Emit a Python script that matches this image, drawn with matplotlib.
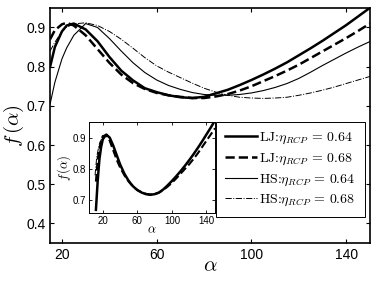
import matplotlib.pyplot as plt

plt.rcParams['font.family'] = ['Liberation Sans', 'DejaVu Sans']
plt.rcParams['mathtext.fontset'] = 'cm'
plt.rcParams['axes.unicode_minus'] = False

# main plot data
alpha = [15, 17, 20, 22, 25, 30, 35, 40, 45, 50, 55, 60, 65, 70, 75, 80, 85, 90,
         95, 100, 105, 110, 115, 120, 125, 130, 135, 140, 145, 150]
lj_064 = [0.800, 0.850, 0.890, 0.905, 0.910, 0.895, 0.865, 0.825, 0.790, 0.765, 0.745,
          0.735, 0.727, 0.722, 0.720, 0.723, 0.732, 0.741, 0.753, 0.766, 0.780, 0.795,
          0.811, 0.829, 0.847, 0.866, 0.886, 0.906, 0.928, 0.950]
lj_068 = [0.870, 0.893, 0.908, 0.912, 0.905, 0.880, 0.845, 0.810, 0.780, 0.758, 0.743,
          0.733, 0.727, 0.723, 0.720, 0.720, 0.724, 0.730, 0.739, 0.750, 0.763, 0.776,
          0.790, 0.805, 0.822, 0.839, 0.856, 0.873, 0.891, 0.910]
hs_064 = [0.705, 0.760, 0.820, 0.848, 0.880, 0.910, 0.900, 0.872, 0.840, 0.810, 0.785,
          0.766, 0.752, 0.742, 0.734, 0.729, 0.727, 0.727, 0.729, 0.733, 0.739, 0.747,
          0.757, 0.770, 0.786, 0.803, 0.819, 0.835, 0.850, 0.864]
hs_068 = [0.840, 0.862, 0.890, 0.901, 0.909, 0.912, 0.905, 0.890, 0.870, 0.847, 0.823,
          0.802, 0.786, 0.772, 0.758, 0.745, 0.735, 0.727, 0.722, 0.720, 0.719, 0.720,
          0.722, 0.727, 0.733, 0.740, 0.748, 0.757, 0.766, 0.775]
labels = [r'LJ:$\eta_{RCP}\,=\,0.64$', r'LJ:$\eta_{RCP}\,=\,0.68$',
          r'HS:$\eta_{RCP}\,=\,0.64$', r'HS:$\eta_{RCP}\,=\,0.68$']

# inset data
alpha_in = [12, 14, 16, 18, 20, 24, 28, 32, 36, 40, 45, 50, 55, 60, 65, 70, 75, 80,
            85, 90, 95, 100, 105, 110, 115, 120, 125, 130, 135, 140, 145, 150]
in_solid = [0.670, 0.760, 0.830, 0.870, 0.895, 0.910, 0.900, 0.875, 0.845, 0.815, 0.785,
            0.762, 0.745, 0.733, 0.725, 0.720, 0.718, 0.720, 0.725, 0.735, 0.748, 0.762,
            0.777, 0.793, 0.810, 0.828, 0.847, 0.867, 0.888, 0.910, 0.932, 0.955]
in_dash = [0.760, 0.830, 0.865, 0.890, 0.905, 0.908, 0.890, 0.860, 0.830, 0.805, 0.780,
           0.760, 0.744, 0.733, 0.726, 0.721, 0.719, 0.720, 0.725, 0.733, 0.744, 0.756,
           0.770, 0.785, 0.800, 0.815, 0.832, 0.850, 0.870, 0.890, 0.910, 0.930]
alpha_dd = [11, 13, 16, 20, 24, 28]
in_dd = [0.780, 0.840, 0.880, 0.905, 0.910, 0.900]

fig = plt.figure(figsize=(3.74, 2.81), dpi=100)
ax = fig.add_axes([0.134, 0.135, 0.855, 0.837])
ax.plot(alpha, lj_064, 'k-', lw=1.8, label=labels[0])
ax.plot(alpha, lj_068, 'k--', lw=1.8, label=labels[1])
ax.plot(alpha, hs_064, 'k-', lw=0.8, label=labels[2])
ax.plot(alpha, hs_068, 'k-.', lw=0.7, label=labels[3])
ax.set_xlim(15, 150)
ax.set_ylim(0.35, 0.95)
ax.set_xticks([20, 60, 100, 140])
ax.set_yticks([0.4, 0.5, 0.6, 0.7, 0.8, 0.9])
ax.tick_params(direction='in', top=True, right=True, labelsize=10, length=3, width=0.8)
for s in ax.spines.values():
    s.set_linewidth(1.2)
ax.set_xlabel(r'$\alpha$', fontsize=15, labelpad=-4)
ax.set_ylabel(r'$f\,(\alpha)$', fontsize=15, labelpad=0)
leg = ax.legend(loc='upper right', bbox_to_anchor=(0.984, 0.515), borderaxespad=0,
                prop={'family': 'cmr10', 'size': 10}, fancybox=False,
                edgecolor='k', framealpha=1,
                handlelength=2.3, handletextpad=0.2, labelspacing=0.38,
                borderpad=0.65)
leg.get_frame().set_linewidth(0.7)

ins = fig.add_axes([0.238, 0.242, 0.337, 0.324])
ins.plot(alpha_in, in_solid, 'k-', lw=1.8)
ins.plot(alpha_in, in_dash, 'k--', lw=1.5)
ins.plot(alpha_dd, in_dd, 'k-.', lw=0.7)
ins.set_xlim(4, 150)
ins.set_ylim(0.66, 0.95)
ins.set_xticks([20, 60, 100, 140])
ins.set_yticks([0.7, 0.8, 0.9])
ins.tick_params(direction='in', top=True, right=True, labelsize=7, length=2, width=0.6, pad=2)
for s in ins.spines.values():
    s.set_linewidth(0.7)
ins.set_xlabel(r'$\alpha$', fontsize=9, labelpad=-1)
ins.set_ylabel(r'$f\,(\alpha)$', fontsize=9, labelpad=0)

fig.savefig('out.png', dpi=100)
